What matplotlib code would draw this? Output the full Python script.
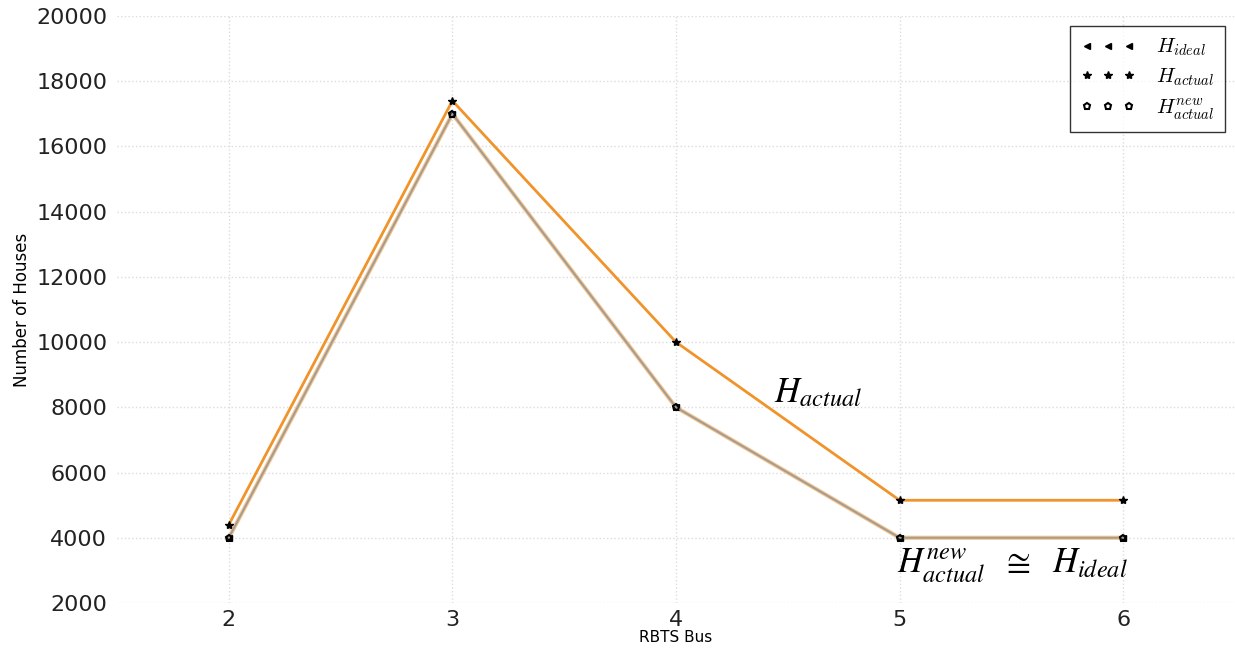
import matplotlib
matplotlib.use("Agg")
import matplotlib.pyplot as plt

buses = [2, 3, 4, 5, 6]
h_ideal = [4000, 17000, 8000, 4000, 4000]
h_actual = [4400, 17400, 10000, 5150, 5150]
h_actual_new = [4000, 17000, 8000, 4000, 4000]
yticks = [2000, 4000, 6000, 8000, 10000, 12000, 14000, 16000, 18000, 20000]

fig = plt.figure(figsize=(12.35, 6.52), dpi=100)
ax = fig.add_axes([117/1235, 1-603/652, 1-117/1235, (603-16)/652])

ax.plot(buses, h_ideal, color="#f7c58c", lw=3.0, marker="<", ms=5, mfc="black", mec="black", label=r"$H_{ideal}$", zorder=3)
ax.plot(buses, h_actual, color="#f0932a", lw=2.0, marker="*", ms=6, mfc="black", mec="black", label=r"$H_{actual}$", zorder=4)
ax.plot(buses, h_actual_new, color="#a09c96", lw=1.4, marker="p", ms=5, mfc="none", mec="black", mew=1.5, label=r"$H_{actual}^{new}$", zorder=5)

ax.set_xlim(1.5, 6.5)
ax.set_ylim(2000, 20000)
ax.set_xticks(buses)
ax.set_yticks(yticks)
ax.tick_params(axis="both", length=0, labelsize=16, colors="#222222")
ax.tick_params(axis="x", pad=5)
ax.tick_params(axis="y", pad=7)
for s in ax.spines.values():
    s.set_visible(False)
ax.grid(True, color="#dcdcdc", linestyle=":", linewidth=1.0)
ax.set_axisbelow(True)

ax.set_xlabel("RBTS Bus", fontsize=11, family="DejaVu Sans", labelpad=0)
ax.set_ylabel("Number of Houses", fontsize=12, family=["Liberation Sans Narrow", "DejaVu Sans"], labelpad=4)

leg = ax.legend(loc="upper right", numpoints=3, frameon=True, fancybox=False,
                edgecolor="black", borderpad=0.5, handlelength=2.6, labelspacing=0.4,
                handletextpad=1.0, borderaxespad=0.5,
                prop={"size": 15, "math_fontfamily": "cm"})
for h in leg.legend_handles:
    h.set_linestyle("None")
leg.get_frame().set_linewidth(1.0)

ax.text(4.44, 8450, r"$H_{actual}$", fontsize=25, math_fontfamily="stix", ha="left", va="center")
ax.text(4.99, 3130, r"$H_{actual}^{new}\ \ \cong\ \ H_{ideal}$", fontsize=25, math_fontfamily="stix", ha="left", va="center")

fig.savefig("out.png", dpi=100)
